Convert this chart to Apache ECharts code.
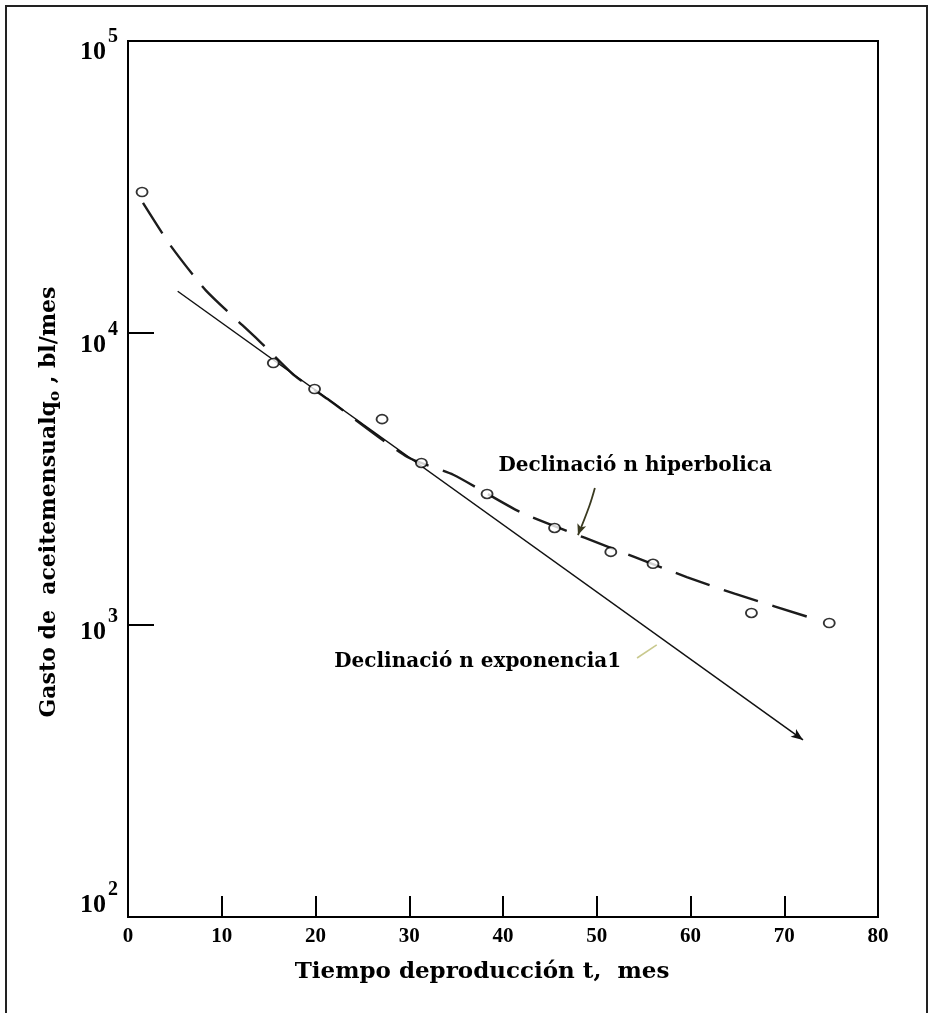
<!DOCTYPE html>
<html>
<head>
<meta charset="utf-8">
<script src="https://cdn.jsdelivr.net/npm/echarts@6/dist/echarts.min.js"></script>
<style>
html,body{margin:0;padding:0;background:#fff;}
#c{width:932px;height:1013px;}
</style>
</head>
<body>
<div id="c"></div>
<script>
// ---- data ----
const monthsObs = [1.5, 15.5, 19.9, 27.1, 31.3, 38.3, 45.5, 51.5, 56.0, 66.5, 74.8];
const rateObs   = [30400, 7890, 6430, 5070, 3590, 2810, 2150, 1780, 1620, 1100, 1016];

const hypT = [1.6, 4.5, 8.3, 13.9, 17.8, 21.3, 29.8, 34.7, 41.8, 48.7, 54.0, 59.6, 64.7, 73.6];
const hypQ = [27900, 20000, 14000, 9460, 7130, 5940, 3760, 3270, 2440, 1990, 1710, 1460, 1280, 1040];

const expT = [5.3, 72.0];
const expQ = [13900, 404];

const yTickValues = [100, 1000, 10000, 100000];
const yTickExp    = ['2', '3', '4', '5'];

const xTitle = 'Tiempo deproducción t,  mes';
const yTitleMain = 'Gasto de  aceitemensualq';
const yTitleSub = 'o';
const yTitleEnd = ' , bl/mes';
const hypLabel = 'Declinació n hiperbolica';
const expLabel = 'Declinació n exponencia1';

// annotation anchors in data coordinates
const hypLabelPos = [54.1, 3510];
const expLabelPos = [37.3, 747];
const hypLeaderT = [49.8, 49.2, 48.0];
const hypLeaderQ = [2945, 2550, 2032];
const expLeaderT = [54.3, 56.4];
const expLeaderQ = [771, 855];

// ---- chart ----
const chart = echarts.init(document.getElementById('c'), null, {renderer: 'canvas'});
const SERIF = '"DejaVu Serif", serif';
const DIGITS = '"Liberation Serif", "Times New Roman", serif';

const option = {
  animation: false,
  backgroundColor: '#fff',
  grid: {left: 128, right: 54, top: 41, bottom: 96, show: true, borderColor: '#000', borderWidth: 2, containLabel: false},
  xAxis: {
    type: 'value', min: 0, max: 80, interval: 10,
    axisLine: {show: true, onZero: false, lineStyle: {color: '#000', width: 2}},
    axisTick: {show: true, inside: true, length: 21, lineStyle: {color: '#000', width: 2}},
    axisLabel: {color: '#000', fontFamily: DIGITS, fontWeight: 'bold', fontSize: 21, margin: 9},
    splitLine: {show: false}
  },
  yAxis: {
    type: 'log', logBase: 10, min: 100, max: 100000,
    axisLine: {show: true, lineStyle: {color: '#000', width: 2}},
    axisTick: {show: true, inside: true, length: 26, lineStyle: {color: '#000', width: 2}},
    minorTick: {show: false},
    axisLabel: {show: false},
    splitLine: {show: false}
  },
  series: [
    {
      name: 'hiperbolica', type: 'line', symbol: 'none', smooth: 0.2, z: 3,
      data: hypT.map((t, i) => [t, hypQ[i]]),
      lineStyle: {color: '#1c1c1c', width: 2.4, type: [36, 15]}
    },
    {
      name: 'exponencial', type: 'line', z: 3,
      data: expT.map((t, i) => (i === expT.length - 1)
        ? {value: [t, expQ[i]], symbol: 'arrow', symbolSize: [7, 12], symbolRotate: -126}
        : {value: [t, expQ[i]], symbol: 'none'}),
      lineStyle: {color: '#111', width: 1.5},
      itemStyle: {color: '#111'}
    },
    {
      name: 'leaderHyp', type: 'line', z: 3, smooth: 0.4,
      data: hypLeaderT.map((t, i) => (i === hypLeaderT.length - 1)
        ? {value: [t, hypLeaderQ[i]], symbol: 'arrow', symbolSize: [7, 11], symbolRotate: 160}
        : {value: [t, hypLeaderQ[i]], symbol: 'none'}),
      lineStyle: {color: '#3a3a20', width: 1.8},
      itemStyle: {color: '#3a3a20'}
    },
    {
      name: 'leaderExp', type: 'line', z: 3, symbol: 'none',
      data: expLeaderT.map((t, i) => [t, expLeaderQ[i]]),
      lineStyle: {color: '#c9c98e', width: 1.6}
    },
    {
      name: 'observado', type: 'scatter', z: 5,
      symbol: 'circle', symbolSize: [11, 9],
      data: monthsObs.map((t, i) => [t, rateObs[i]]),
      itemStyle: {color: '#fff', borderColor: '#000', borderWidth: 1.7}
    }
  ]
};
chart.setOption(option);

function px(v) { return chart.convertToPixel({xAxisIndex: 0, yAxisIndex: 0}, v); }

const graphics = [];
// outer frame
graphics.push({type: 'rect', shape: {x: 6, y: 6, width: 921, height: 1030}, style: {fill: 'none', stroke: '#222', lineWidth: 2}, z: 10, silent: true});

// y tick labels 10^n
const labelOffsets = [-12, 7, 12, 11];
yTickValues.forEach((v, i) => {
  const p = px([0, v]);
  const cy = p[1] + labelOffsets[i];
  graphics.push({type: 'text', x: p[0] - 22, y: cy, z: 10,
    style: {text: '10', fill: '#000', font: 'bold 26px ' + DIGITS, align: 'right', verticalAlign: 'middle'}});
  graphics.push({type: 'text', x: p[0] - 20, y: cy - 15, z: 10,
    style: {text: yTickExp[i], fill: '#000', font: 'bold 20px ' + DIGITS, align: 'left', verticalAlign: 'middle'}});
});

// axis titles
graphics.push({type: 'text', x: 482, y: 972, z: 10,
  style: {text: xTitle, fill: '#000', font: 'bold 23px ' + SERIF, align: 'center', verticalAlign: 'middle'}});
graphics.push({type: 'text', x: 49, y: 502, rotation: Math.PI / 2, z: 10,
  style: {
    text: '{n|' + yTitleMain + '}{s|' + yTitleSub + '}{n|' + yTitleEnd + '}',
    align: 'center', verticalAlign: 'middle',
    rich: {
      n: {font: 'bold 22px ' + SERIF, fill: '#000', lineHeight: 28, verticalAlign: 'middle'},
      s: {font: 'bold 15px ' + SERIF, fill: '#000', lineHeight: 13, verticalAlign: 'bottom'}
    }
  }});

// annotations
const hp = px(hypLabelPos);
graphics.push({type: 'text', x: hp[0], y: hp[1], z: 10,
  style: {text: hypLabel, fill: '#000', font: 'bold 20px ' + SERIF, align: 'center', verticalAlign: 'middle'}});
const ep = px(expLabelPos);
graphics.push({type: 'text', x: ep[0], y: ep[1], z: 10,
  style: {text: expLabel, fill: '#000', font: 'bold 20px ' + SERIF, align: 'center', verticalAlign: 'middle'}});

chart.setOption({graphic: graphics});
</script>
</body>
</html>
